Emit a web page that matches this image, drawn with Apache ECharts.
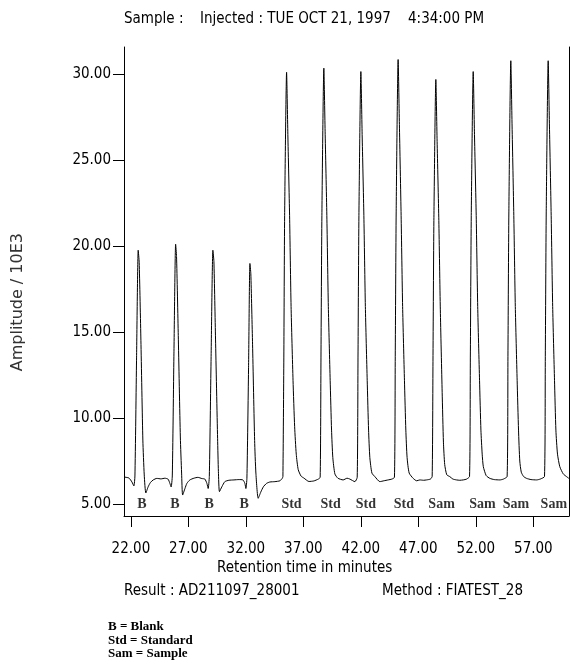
<!DOCTYPE html>
<html lang="en">

<head>
    <meta charset="UTF-8">
    <title>FIA chromatogram</title>
    <script src="https://cdn.jsdelivr.net/npm/echarts@6/dist/echarts.min.js"></script>
    <style>
        body { margin: 0; background: #fff; }
    </style>
</head>

<body>
    <div id="main" style="width: 571px; height: 668px;"></div>
    <script>
        // trace: [retention time (min), amplitude / 10E3]
        var blankTrace = [
            [21.40, 6.57], [21.83, 6.51], [22.09, 6.28], [22.26, 6.05], [22.35, 6.63],
            [22.49, 13.37], [22.635, 19.77], [22.72, 19.07], [22.87, 14.53], [23.04, 8.72],
            [23.16, 6.69], [23.30, 5.64], [23.50, 6.00], [23.70, 6.25], [23.94, 6.40],
            [24.26, 6.49], [24.61, 6.46], [24.96, 6.50], [25.24, 6.44], [25.39, 6.20],
            [25.50, 5.99], [25.60, 6.63], [25.74, 13.6], [25.89, 20.12], [25.97, 19.4],
            [26.12, 14.8], [26.30, 8.9], [26.41, 6.8], [26.50, 5.52], [26.70, 5.90],
            [26.87, 6.20], [27.13, 6.40], [27.48, 6.50], [27.83, 6.55], [28.17, 6.48],
            [28.43, 6.45], [28.61, 6.20], [28.72, 5.90], [28.82, 6.60], [28.97, 13.3],
            [29.13, 19.77], [29.22, 19.1], [29.36, 14.6], [29.54, 8.8], [29.61, 6.9],
            [29.70, 5.72], [29.91, 6.00], [30.17, 6.30], [30.52, 6.38], [30.96, 6.40],
            [31.39, 6.42], [31.74, 6.40], [31.91, 6.20], [32.00, 5.90], [32.09, 6.50],
            [32.23, 12.8], [32.35, 19.0], [32.43, 18.4], [32.58, 14.3], [32.76, 8.7],
            [32.87, 6.8], [33.07, 5.33], [33.30, 5.70], [33.52, 6.00], [33.80, 6.20],
            [34.09, 6.28], [34.52, 6.30], [34.96, 6.35], [35.17, 6.50]
        ]
        var standardTrace = [
            [35.22, 6.60], [35.30, 13.5], [35.37, 21.8], [35.54, 30.13], [35.65, 26.5],
            [35.80, 21.8], [35.93, 16.5], [36.10, 12.2], [36.24, 9.5], [36.38, 7.9],
            [36.55, 7.0], [36.80, 6.62], [37.04, 6.51], [37.48, 6.31], [37.91, 6.34],
            [38.30, 6.45], [38.46, 6.55],
            [38.53, 13.5], [38.61, 21.8], [38.78, 30.37], [38.89, 26.7], [39.04, 21.8],
            [39.17, 16.5], [39.33, 12.2], [39.45, 9.3], [39.56, 7.7], [39.74, 6.75],
            [40.00, 6.50], [40.46, 6.40], [40.80, 6.50], [41.04, 6.45], [41.48, 6.30],
            [41.68, 6.55],
            [41.75, 13.5], [41.83, 21.8], [42.00, 30.17], [42.11, 26.5], [42.26, 21.8],
            [42.39, 16.5], [42.55, 12.2], [42.67, 9.3], [42.78, 7.7], [42.96, 6.80],
            [43.22, 6.59], [43.65, 6.30], [44.00, 6.35], [44.37, 6.40], [44.70, 6.45],
            [44.92, 6.55],
            [44.99, 13.6], [45.07, 22.0], [45.24, 30.87], [45.35, 27.1], [45.50, 21.8],
            [45.63, 16.5], [45.79, 12.2], [45.91, 9.3], [46.02, 7.7], [46.20, 6.80],
            [46.55, 6.49], [46.85, 6.35], [47.13, 6.40], [47.45, 6.38], [47.71, 6.40],
            [48.05, 6.45]
        ]
        var sampleTrace = [
            [48.20, 6.60], [48.27, 13.3], [48.35, 21.5], [48.52, 29.71], [48.63, 26.1],
            [48.78, 21.5], [48.91, 16.3], [49.07, 11.5], [49.18, 8.6], [49.29, 7.3],
            [49.47, 6.70], [49.74, 6.59], [50.00, 6.45], [50.32, 6.40], [50.60, 6.38],
            [50.90, 6.40], [51.20, 6.45], [51.45, 6.60],
            [51.52, 13.5], [51.60, 21.8], [51.77, 30.17], [51.88, 26.5], [52.03, 21.8],
            [52.16, 16.5], [52.32, 12.2], [52.44, 9.3], [52.55, 7.9], [52.65, 7.17],
            [52.90, 6.65], [53.22, 6.49], [53.60, 6.42], [54.09, 6.40], [54.40, 6.45],
            [54.72, 6.60],
            [54.79, 13.6], [54.87, 22.0], [55.04, 30.80], [55.15, 27.0], [55.30, 21.8],
            [55.43, 16.5], [55.59, 12.2], [55.71, 9.3], [55.82, 7.5], [55.95, 6.85],
            [56.15, 6.60], [56.41, 6.49], [56.80, 6.42], [57.28, 6.40], [57.60, 6.45],
            [57.97, 6.60],
            [58.04, 13.6], [58.12, 22.0], [58.29, 30.80], [58.40, 27.0], [58.55, 21.8],
            [58.68, 16.5], [58.84, 12.2], [58.96, 9.3], [59.10, 7.9], [59.30, 7.17],
            [59.60, 6.75], [59.89, 6.59], [60.09, 6.49]
        ]

        // peak labels under each injection
        var peakNames = ['B', 'B', 'B', 'B', 'Std', 'Std', 'Std', 'Std', 'Sam', 'Sam', 'Sam', 'Sam']
        var peakLabelTimes = [22.96, 25.83, 28.81, 31.85, 35.97, 39.37, 42.43, 45.74, 49.02, 52.58, 55.48, 58.78]
        var peakLabelLevel = 4.95

        var xTicks = [22, 27, 32, 37, 42, 47, 52, 57]
        var yTicks = [5, 10, 15, 20, 25, 30]

        var labelData = []
        for (var i = 0; i < peakNames.length; i++) {
            labelData.push([peakLabelTimes[i], peakLabelLevel, peakNames[i]])
        }

        var plotFont = '"DejaVu Sans Condensed", "Liberation Sans Narrow", sans-serif'
        var serifBold = '"Liberation Serif", "DejaVu Serif", serif'

        var mCharts = echarts.init(document.getElementById('main'))
        var option = {
            animation: false,
            backgroundColor: '#fff',
            grid: { left: 124, right: 2, top: 47, bottom: 152 },
            xAxis: {
                type: 'value',
                min: 21.4,
                max: 60.1,
                axisLine: { lineStyle: { color: '#000', width: 1 } },
                axisTick: { length: 11, lineStyle: { color: '#000' }, customValues: xTicks },
                axisLabel: {
                    margin: 26,
                    color: '#000',
                    fontFamily: plotFont,
                    fontSize: 15,
                    customValues: xTicks,
                    formatter: function(v) { return v.toFixed(2) }
                },
                splitLine: { show: false }
            },
            yAxis: [{
                type: 'value',
                min: 4.3,
                max: 31.6,
                axisLine: { show: true, lineStyle: { color: '#000', width: 1 } },
                axisTick: { show: true, length: 11, lineStyle: { color: '#000' }, customValues: yTicks },
                axisLabel: {
                    margin: 13,
                    color: '#000',
                    fontFamily: plotFont,
                    fontSize: 15,
                    customValues: yTicks,
                    formatter: function(v) { return v.toFixed(2) }
                },
                splitLine: { show: false }
            }, {
                // right frame line only
                type: 'value',
                position: 'right',
                min: 4.3,
                max: 31.6,
                axisLine: { show: true, lineStyle: { color: '#000', width: 1 } },
                axisTick: { show: false },
                axisLabel: { show: false },
                splitLine: { show: false }
            }],
            series: [{
                type: 'line',
                data: blankTrace.concat(standardTrace, sampleTrace),
                showSymbol: false,
                symbol: 'none',
                smooth: 0.2,
                lineStyle: { color: '#000', width: 1 },
                silent: true
            }, {
                type: 'scatter',
                data: labelData,
                symbolSize: 0,
                silent: true,
                label: {
                    show: true,
                    position: 'inside',
                    color: '#000',
                    fontFamily: serifBold,
                    fontWeight: 'bold',
                    fontSize: 14,
                    formatter: function(p) { return p.data[2] }
                }
            }],
            graphic: [{
                type: 'text',
                left: 124,
                top: 12,
                style: { text: 'Sample :', font: '15px ' + plotFont, fill: '#000' }
            }, {
                type: 'text',
                left: 200,
                top: 12,
                style: { text: 'Injected : TUE OCT 21, 1997    4:34:00 PM', font: '15px ' + plotFont, fill: '#000' }
            }, {
                type: 'text',
                left: 217,
                top: 561,
                style: { text: 'Retention time in minutes', font: '15px ' + plotFont, fill: '#000' }
            }, {
                type: 'text',
                left: 124,
                top: 584,
                style: { text: 'Result : AD211097_28001', font: '15px ' + plotFont, fill: '#000' }
            }, {
                type: 'text',
                left: 382,
                top: 584,
                style: { text: 'Method : FIATEST_28', font: '15px ' + plotFont, fill: '#000' }
            }, {
                type: 'text',
                left: 10,
                top: 233,
                rotation: Math.PI / 2,
                style: {
                    text: 'Amplitude / 10E3',
                    font: '16px "DejaVu Sans", sans-serif',
                    fill: '#333',
                    align: 'center',
                    verticalAlign: 'middle'
                }
            }, {
                type: 'text',
                left: 108,
                top: 620,
                style: {
                    text: 'B = Blank\nStd = Standard\nSam = Sample',
                    font: 'bold 13px ' + serifBold,
                    lineHeight: 13.5,
                    fill: '#000'
                }
            }]
        }
        mCharts.setOption(option)
    </script>
</body>

</html>
